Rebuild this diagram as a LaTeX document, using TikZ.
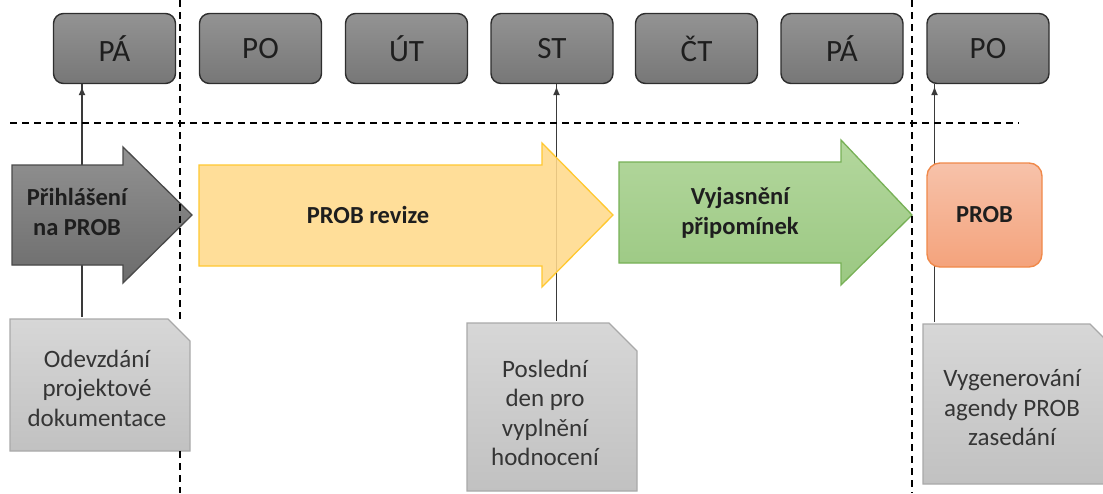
\documentclass[tikz,border=0pt]{standalone}
\usepackage{fontspec}
\setmainfont{Carlito}
\usetikzlibrary{arrows.meta}

\definecolor{dayTop}{HTML}{939393}
\definecolor{dayBot}{HTML}{777777}
\definecolor{dayLine}{HTML}{2E2E2E}
\definecolor{grayTop}{HTML}{929292}
\definecolor{grayBot}{HTML}{6C6C6C}
\definecolor{grayLine}{HTML}{4A4A4A}
\definecolor{yelFill}{HTML}{FFD98B}
\definecolor{yelLine}{HTML}{FFC830}
\definecolor{grnTop}{HTML}{B3D79D}
\definecolor{grnBot}{HTML}{9BC882}
\definecolor{grnLine}{HTML}{77B056}
\definecolor{orgTop}{HTML}{F7C2AA}
\definecolor{orgBot}{HTML}{F4A37C}
\definecolor{orgLine}{HTML}{F0894A}
\definecolor{docTop}{HTML}{D7D7D7}
\definecolor{docBot}{HTML}{C1C1C1}
\definecolor{docLine}{HTML}{A9A9A9}
\definecolor{txt}{HTML}{1E1E1E}
\definecolor{conn}{HTML}{3A3A3A}

\tikzset{
  daybox/.style={draw=dayLine, line width=1.4pt, rounded corners=10pt,
    top color=dayTop, bottom color=dayBot, minimum width=122pt,
    minimum height=70pt, inner sep=0pt, text=txt,
    font=\fontsize{31}{36}\selectfont},
  boldtxt/.style={align=center, text=txt, inner sep=0pt,
    font=\fontsize{24.5}{30}\selectfont\bfseries},
  doctext/.style={align=center, text=txt!90, inner sep=0pt,
    font=\fontsize{25}{29.5}\selectfont},
  docshape/.style={draw=docLine, line width=1.2pt, top color=docTop,
    bottom color=docBot},
  guide/.style={black, line width=1.4pt, dash pattern=on 7pt off 5pt},
  tick/.style={conn, line width=1.5pt,
    -{Latex[length=9pt,width=7pt]}},
}

\begin{document}
\begin{tikzpicture}[x=1pt,y=-1pt]
\useasboundingbox (0,0) rectangle (1103,493);
\clip (0,0) rectangle (1103,493);

% week days
\node[daybox] (day1) at (114.5,48.5) {PÁ};
\node[daybox] (day2) at (260.5,48.5) {PO};
\node[daybox] (day3) at (406.5,48.5) {ÚT};
\node[daybox] (day4) at (552,48.5) {ST};
\node[daybox] (day5) at (696.5,48.5) {ČT};
\node[daybox] (day6) at (842,48.5) {PÁ};
\node[daybox] (day7) at (988,48.5) {PO};

% milestone documents (outline first, text node on top)
\path[docshape] (10,319) -- (168,319) -- (190,341) -- (190,451) -- (10,451) -- cycle;
\node[doctext, minimum width=180pt, minimum height=132pt] (d1) at (97,388)
  {Odevzdání\\projektové\\dokumentace};
\path[docshape] (467,323) -- (609,323) -- (637,351) -- (637,491) -- (467,491) -- cycle;
\node[doctext, minimum width=170pt, minimum height=168pt] (d2) at (545,413)
  {Poslední\\den pro\\vyplnění\\hodnocení};
\path[docshape] (923,324) -- (1090,324) -- (1112,346) -- (1112,484) -- (923,484) -- cycle;
\node[doctext, minimum width=170pt, minimum height=160pt] (d3) at (1012,408)
  {Vygenerování\\agendy PROB\\zasedání};

% links from documents to days
\draw[tick] (82,317) -- (day1.south -| 82,0) ++(0,2);
\draw[tick] (556.5,321) -- (day4.south -| 556.5,0) ++(0,2);
\draw[tick] (934.5,322) -- (day7.south -| 934.5,0) ++(0,2);

% phases
\fill[grayBot]
  (12,165) -- (123,165) -- (123,147) -- (192,215) -- (123,283) -- (123,265)
  -- (12,265) -- cycle;
\path[draw=grayLine, line width=1.3pt, top color=grayTop, bottom color=grayBot]
  (12,165) -- (123,165) -- (123,147) -- (192,215) -- (123,283) -- (123,265)
  -- (12,265) -- cycle;
\node[boldtxt] (a1) at (77,212) {Přihlášení\\na PROB};

\path[draw=yelLine, line width=1.3pt, fill=yelFill, fill opacity=0.88]
  (199,165) -- (542,165) -- (542,143) -- (613,215) -- (542,287) -- (542,266)
  -- (199,266) -- cycle;
\node[boldtxt] (a2) at (368,215) {PROB revize};

\path[draw=grnLine, line width=1.3pt, top color=grnTop, bottom color=grnBot]
  (619,162) -- (841,162) -- (841,140) -- (912,215) -- (841,285) -- (841,263)
  -- (619,263) -- cycle;
\node[boldtxt] (a3) at (740,213) {Vyjasnění\\připomínek};

\node[draw=orgLine, line width=1.4pt, rounded corners=13pt, top color=orgTop,
  bottom color=orgBot, minimum width=115pt, minimum height=104pt,
  boldtxt] (prob) at (984.5,215) {PROB};

% week separators
\draw[guide] (10,123) -- (1019,123);
\draw[guide] (180,0) -- (180,319);
\draw[guide] (180,451) -- (180,493);
\draw[guide] (912,0) -- (912,493);
\end{tikzpicture}
\end{document}
